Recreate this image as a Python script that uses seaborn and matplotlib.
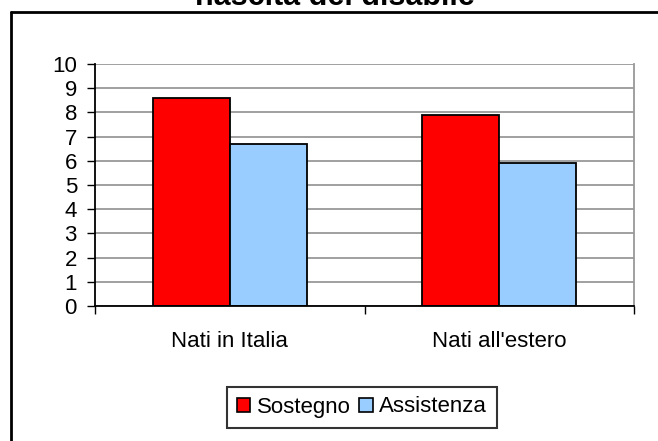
import matplotlib
matplotlib.use("Agg")
import matplotlib.pyplot as plt
import pandas as pd
import seaborn as sns
from matplotlib.lines import Line2D

categories = ["Nati in Italia", "Nati all'estero"]
sostegno = [8.6, 7.9]
assistenza = [6.7, 5.9]
series_names = ["Sostegno", "Assistenza"]
colors = ["#FF0000", "#99CCFF"]
y_ticks = list(range(0, 11))

df = pd.DataFrame({
    "categoria": categories * 2,
    "valore": sostegno + assistenza,
    "serie": [series_names[0]] * 2 + [series_names[1]] * 2,
})

sns.set_style("white")
plt.rcParams["font.family"] = ["Liberation Sans", "DejaVu Sans"]
plt.rcParams["text.color"] = "black"
plt.rcParams["xtick.color"] = "black"
plt.rcParams["ytick.color"] = "black"

fig = plt.figure(figsize=(6.58, 4.41), dpi=100)
ax = fig.add_axes([95 / 658, 1 - 306 / 441, 539 / 658, 242 / 441])

sns.barplot(data=df, x="categoria", y="valore", hue="serie", palette=colors,
            saturation=1, width=0.57, edgecolor="black", linewidth=1.3, ax=ax,
            legend=False)

ax.set_xlim(-0.5, 1.5)
ax.set_ylim(0, 10)
ax.set_yticks(y_ticks)
ax.set_xlabel("")
ax.set_ylabel("")
ax.yaxis.grid(True, color="#999999", linewidth=1.3)
ax.set_axisbelow(True)

for s in ["left", "bottom"]:
    ax.spines[s].set_color("black")
    ax.spines[s].set_linewidth(1.3)
ax.spines["right"].set_visible(True)
ax.spines["right"].set_color("#999999")
ax.spines["right"].set_linewidth(1.3)
ax.spines["top"].set_visible(False)

ax.tick_params(axis="y", direction="out", length=6, width=1, color="black",
               labelsize=16, pad=7, left=True)
ax.tick_params(axis="x", which="major", length=0, labelsize=16, pad=18)
ax.set_xticks([-0.5, 0.5, 1.5], minor=True)
ax.tick_params(axis="x", which="minor", direction="out", length=6, width=1,
               color="black", bottom=True)

handles = [plt.Rectangle((0, 0), 1, 1, facecolor=c, edgecolor="black", linewidth=1.2)
           for c in colors]
leg = fig.legend(handles, series_names, loc="center", ncol=2,
                 bbox_to_anchor=(362 / 658, 1 - 407 / 441), fontsize=16,
                 frameon=True, fancybox=False, edgecolor="black",
                 handlelength=0.6, handleheight=0.6, handletextpad=0.3,
                 columnspacing=0.4, borderpad=0.45)
leg.get_frame().set_linewidth(1.5)

# cornice esterna del grafico
fig.add_artist(Line2D([11 / 658, 11 / 658], [0, 1 - 12 / 441], color="black",
                      linewidth=2, transform=fig.transFigure))
fig.add_artist(Line2D([11 / 658, 1], [1 - 12 / 441, 1 - 12 / 441], color="black",
                      linewidth=2, transform=fig.transFigure))

fig.text(335 / 658, 1 - 5 / 441, "nascita del disabile", ha="center", va="baseline",
         fontsize=22, fontweight="bold")

fig.savefig("out.png", dpi=100)
